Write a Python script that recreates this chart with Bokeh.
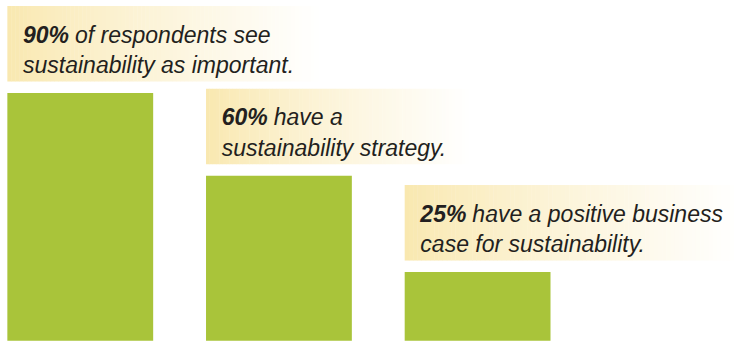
from bokeh.plotting import figure
from bokeh.models import Range1d, ColumnDataSource
from bokeh.core.properties import value
from bokeh.embed import file_html
from bokeh.resources import INLINE

# ---- data ----
categories = ["important", "strategy", "business case"]
percent = [90, 60, 25]
pct_labels = ["90%", "60%", "25%"]
line1_rest = ["of respondents see", "have a", "have a positive business"]
line2 = ["sustainability as important.", "sustainability strategy.", "case for sustainability."]

# ---- style ----
W, H = 734, 348
sx, sy = W / 750, H / 364
px_per_x = 203.0 * sx      # pixels per category step
px_per_y = 2.88 * sy       # pixels per percent
bar_w = 149 * sx / px_per_x
box_widths_px = [322 * sx, 272 * sx, 345 * sx]
box_gap_px = 12 * sy
box_h_px = 79 * sy
text_pad_px = 16 * sx
bar_color = "#a9c43a"
grad_left = (249, 232, 176)
grad_right = (255, 255, 255)
FONT = "Liberation Sans"
FSIZE = "23px"

x0 = -81.5 * sx / px_per_x
y0 = -8 * sy / px_per_y
p = figure(width=W, height=H, output_backend="svg", toolbar_location=None,
           x_range=Range1d(x0, x0 + W / px_per_x), y_range=Range1d(y0, y0 + H / px_per_y),
           min_border=0)
p.axis.visible = False
p.grid.visible = False
p.outline_line_color = None
p.background_fill_color = "white"
p.border_fill_color = "white"

xs = list(range(len(categories)))

# gradient label boxes
n_strips = 80
for i, v in enumerate(percent):
    left = xs[i] - bar_w / 2
    bw = box_widths_px[i] / px_per_x
    bottom = v + box_gap_px / px_per_y
    top = bottom + box_h_px / px_per_y
    lefts, rights, cols = [], [], []
    for k in range(n_strips):
        t = k / (n_strips - 1)
        tt = t ** 0.85
        c = tuple(int(round(grad_left[j] + (grad_right[j] - grad_left[j]) * tt)) for j in range(3))
        lefts.append(left + bw * k / n_strips)
        rights.append(left + bw * (k + 1) / n_strips + 0.002)
        cols.append("#%02x%02x%02x" % c)
    p.quad(left=lefts, right=rights, bottom=bottom, top=top, fill_color=cols, line_color=None)

# bars
src = ColumnDataSource(dict(x=xs, top=percent))
p.vbar(x="x", top="top", bottom=0, width=bar_w, source=src, fill_color=bar_color, line_color=None)

# texts
tx, ty1, ty2 = [], [], []
for i, v in enumerate(percent):
    left = xs[i] - bar_w / 2
    top = v + (box_gap_px + box_h_px) / px_per_y
    tx.append(left + text_pad_px / px_per_x)
    ty1.append(top - 30 * sy / px_per_y)
    ty2.append(top - 62 * sy / px_per_y)

tsrc = ColumnDataSource(dict(x=tx, y1=ty1, y2=ty2, pct=pct_labels, rest=line1_rest, l2=line2))
p.text(x="x", y="y1", text="pct", source=tsrc, text_font=value(FONT), text_font_size=FSIZE,
       text_font_style="bold italic", text_color="#231f20", text_baseline="alphabetic")
p.text(x="x", y="y1", text="rest", source=tsrc, x_offset=52, text_font=value(FONT),
       text_font_size=FSIZE, text_font_style="italic", text_color="#231f20", text_baseline="alphabetic")
p.text(x="x", y="y2", text="l2", source=tsrc, text_font=value(FONT), text_font_size=FSIZE,
       text_font_style="italic", text_color="#231f20", text_baseline="alphabetic")

open("out.html", "w").write(file_html(p, INLINE))
